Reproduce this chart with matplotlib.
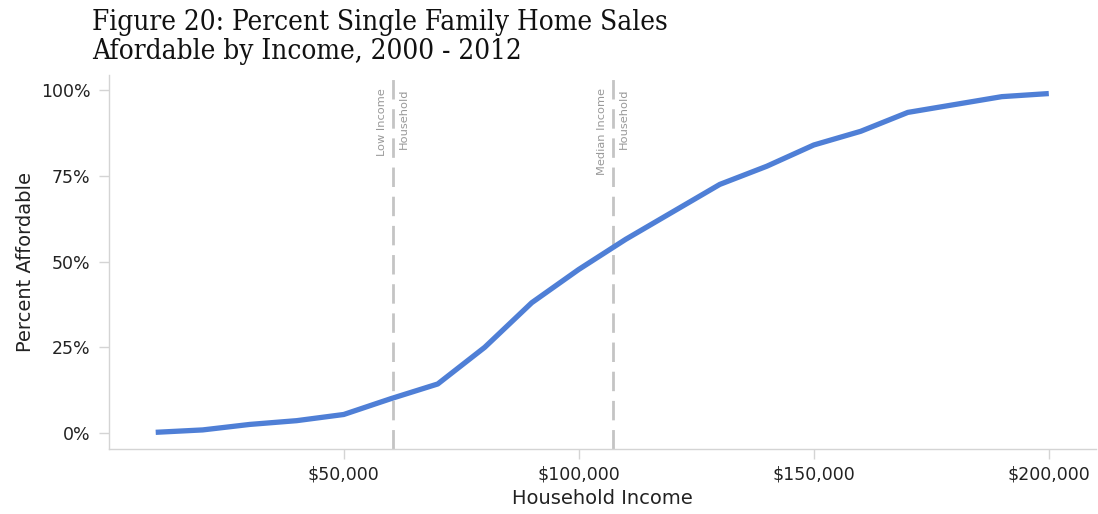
import matplotlib
matplotlib.use("Agg")
import matplotlib.pyplot as plt
from matplotlib.ticker import FuncFormatter

income = [10000, 20000, 30000, 40000, 50000, 60000, 70000, 80000, 90000, 100000,
          110000, 120000, 130000, 140000, 150000, 160000, 170000, 180000, 190000, 200000]
pct_affordable = [0.2, 0.9, 2.5, 3.6, 5.4, 10.0, 14.3, 25.0, 38.0, 47.7,
                  56.5, 64.5, 72.5, 77.8, 84.0, 88.0, 93.5, 95.8, 98.1, 99.0]
ref_x = [60500, 107300]
ref_labels = [("Low Income", "Household"), ("Median Income", "Household")]
x_ticks = [50000, 100000, 150000, 200000]
y_ticks = [0, 25, 50, 75, 100]

fig = plt.figure(figsize=(10.98, 5.14), dpi=100)
ax = fig.add_axes([0.099, 0.1265, 0.899, 0.7275])

sans = ["DejaVu Sans"]

for xv, (l1, l2) in zip(ref_x, ref_labels):
    ax.axvline(xv, color="#c4c4c4", lw=2.0, dashes=(7, 3.5), zorder=1)
    ax.text(xv - 2300, 100.6, l1, rotation=90, ha="center", va="top",
            fontsize=8.2, color="#999999", family=sans)
    ax.text(xv + 2300, 100.6, l2, rotation=90, ha="center", va="top",
            fontsize=8.2, color="#999999", family=sans)

ax.plot(income, pct_affordable, color="#4f7fd6", lw=3.8, solid_capstyle="butt", zorder=3)

ax.set_xlim(0, 210000)
ax.set_ylim(-4.66, 104.4)
ax.set_xticks(x_ticks)
ax.set_yticks(y_ticks)
ax.xaxis.set_major_formatter(FuncFormatter(lambda v, p: "${:,.0f}".format(v)))
ax.yaxis.set_major_formatter(FuncFormatter(lambda v, p: "{:.0f}%".format(v)))

for s in ["top", "right"]:
    ax.spines[s].set_visible(False)
for s in ["left", "bottom"]:
    ax.spines[s].set_color("#d4d4d4")
    ax.spines[s].set_linewidth(1.0)
ax.tick_params(axis="both", colors="#d4d4d4", labelcolor="#222222",
               labelsize=12.5, length=7, width=1)
ax.tick_params(axis="y", pad=6)
ax.tick_params(axis="x", pad=5)
for lab in ax.get_xticklabels() + ax.get_yticklabels():
    lab.set_family(sans)

ax.set_xlabel("Household Income", fontsize=14, family=sans, color="#222222", labelpad=4)
ax.set_ylabel("Percent Affordable", fontsize=14, family=sans, color="#222222", labelpad=4)

fig.text(0.084, 0.982, "Figure 20: Percent Single Family Home Sales\nAfordable by Income, 2000 - 2012",
         ha="left", va="top", fontsize=20, family="DejaVu Serif", fontstretch="condensed",
         color="#111111", linespacing=1.1)

fig.savefig("out.png", dpi=100)
